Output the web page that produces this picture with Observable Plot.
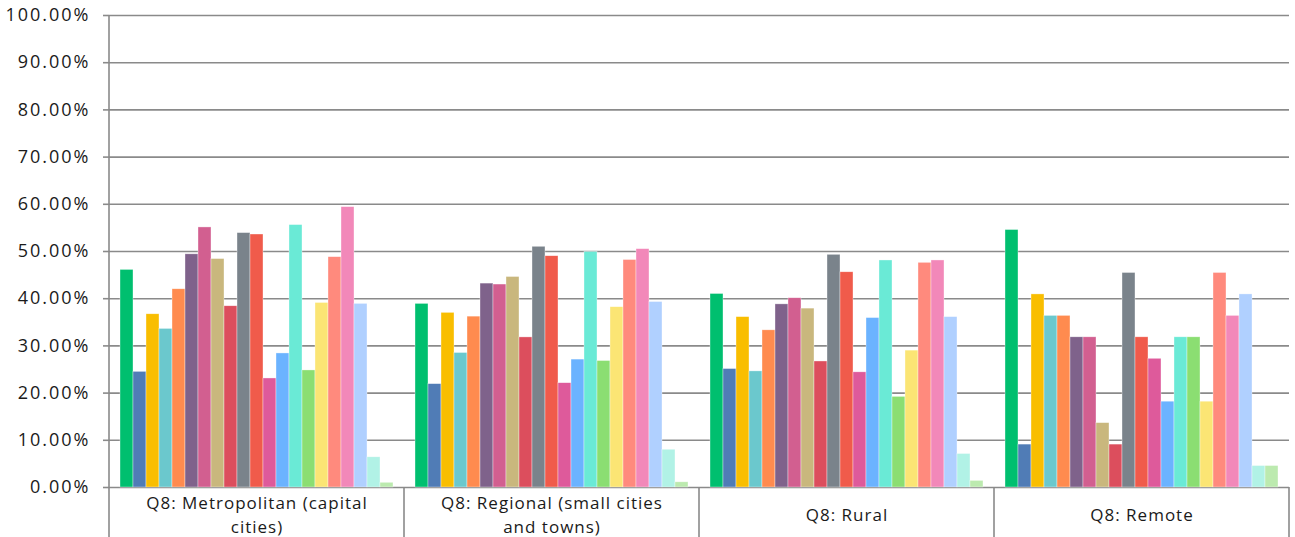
<!DOCTYPE html>
<html>
<head>
<meta charset="utf-8">
<script src="https://cdn.jsdelivr.net/npm/d3@7"></script>
<script src="https://cdn.jsdelivr.net/npm/@observablehq/plot@0.6"></script>
<style>
  html, body { margin: 0; padding: 0; background: #fff; }
  #chart { width: 1295px; height: 537px; }
  .ytick text { letter-spacing: 2px; }
  .cat text { letter-spacing: 1px; }
</style>
</head>
<body>
<div id="chart"></div>
<script>
const groups = [
  "Q8: Metropolitan (capital cities)",
  "Q8: Regional (small cities and towns)",
  "Q8: Rural",
  "Q8: Remote"
];
const groupLabels = [
  "Q8: Metropolitan (capital\ncities)",
  "Q8: Regional (small cities\nand towns)",
  "Q8: Rural",
  "Q8: Remote"
];
const metropolitan = [46.1, 24.5, 36.7, 33.6, 42.0, 49.4, 55.1, 48.4, 38.4, 53.9, 53.6, 23.1, 28.4, 55.6, 24.8, 39.1, 48.8, 59.4, 38.9, 6.4, 1.0];
const regional     = [38.9, 21.9, 37.0, 28.5, 36.2, 43.2, 43.0, 44.6, 31.8, 51.0, 49.0, 22.1, 27.1, 49.9, 26.8, 38.2, 48.2, 50.5, 39.3, 8.0, 1.1];
const rural        = [41.0, 25.1, 36.1, 24.6, 33.3, 38.8, 40.1, 37.9, 26.7, 49.3, 45.6, 24.4, 35.9, 48.1, 19.2, 29.0, 47.6, 48.1, 36.1, 7.1, 1.4];
const remote       = [54.55, 9.09, 40.91, 36.36, 36.36, 31.82, 31.82, 13.64, 9.09, 45.45, 31.82, 27.27, 18.18, 31.82, 31.82, 18.18, 45.45, 36.36, 40.91, 4.55, 4.55];
const colors = ["#00BF6F", "#507CB6", "#F9BE00", "#6BC8CD", "#FF8B4F", "#7F628B", "#D25F90", "#C9B77D", "#DC4E5D", "#7A838B", "#F05B4B", "#DE5A9B", "#6BB3FF", "#6AEAD6", "#8BDE72", "#FBE574", "#FF8A7D", "#F288B9", "#B0D0FF", "#B1F2E6", "#BCEAAF"];
const yTicks = [0, 10, 20, 30, 40, 50, 60, 70, 80, 90, 100];

const series = [metropolitan, regional, rural, remote];
const data = [];
series.forEach((vals, gi) => vals.forEach((v, i) => data.push({group: groups[gi], i, value: v, color: colors[i]})));

const W = 1295, H = 537;
const plot = Plot.plot({
  width: W,
  height: H,
  marginLeft: 108,
  marginRight: 5,
  marginTop: 15,
  marginBottom: 50,
  style: {fontFamily: "'Open Sans', Lato, sans-serif", fontSize: "17px", color: "#1a1a1a", background: "#fff"},
  fx: {domain: groups, padding: 0, axis: null},
  x: {domain: d3.range(colors.length), paddingInner: 0, paddingOuter: 0.72, axis: null},
  y: {domain: [0, 100], axis: null},
  marks: [
    Plot.gridY(yTicks, {stroke: "#8a8a8a", strokeOpacity: 1, strokeWidth: 1.6}),
    Plot.barY(data, {fx: "group", x: "i", y: "value", fill: d => d.color, stroke: "#ffffff", strokeWidth: 0.6, strokeOpacity: 0.6, inset: 0}),
    Plot.axisY(yTicks, {anchor: "left", label: null, tickSize: 6, tickPadding: 13, stroke: "#8a8a8a", strokeWidth: 1.6, fontSize: 18, tickFormat: d => d.toFixed(2) + "%", fill: "#1a1a1a", className: "ytick"}),
    Plot.text(groups, {fx: d => d, text: d => groupLabels[groups.indexOf(d)], frameAnchor: "bottom", dy: 26, lineAnchor: "middle", fontSize: 17, fill: "#1a1a1a", lineHeight: 1.38, className: "cat"})
  ]
});

// group separators and axis line, placed from the library's own scales
const fx = plot.scale("fx");
const y = plot.scale("y");
const svg = d3.select(plot);
const y0 = y.apply(0), yTop = y.apply(100);
const edges = groups.map(g => fx.apply(g));
edges.push(fx.apply(groups[groups.length - 1]) + fx.bandwidth);
const g = svg.append("g").attr("stroke", "#8a8a8a").attr("stroke-width", 1.6);
edges.forEach((x, k) => {
  g.append("line").attr("x1", x).attr("x2", x).attr("y1", k === 0 ? yTop : y0).attr("y2", H);
});
document.getElementById("chart").appendChild(plot);
</script>
</body>
</html>
